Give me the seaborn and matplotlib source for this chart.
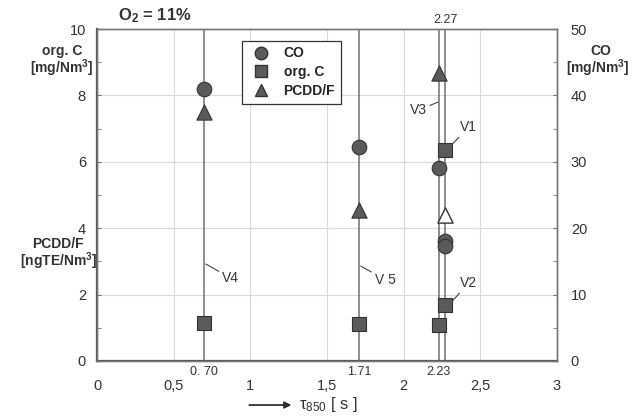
import pandas as pd
import numpy as np
import seaborn as sns
import matplotlib.pyplot as plt
from matplotlib.lines import Line2D

# residence times of the test runs (vertical lines)
tau_lines = [0.70, 1.71, 2.23, 2.27]
tau_labels_bottom = ["0. 70", "1.71", "2.23"]

co_tau = [0.70, 1.71, 2.23, 2.27, 2.27]
co_vals = [41.0, 32.2, 29.0, 18.1, 17.3]

orgc_tau = [0.70, 1.71, 2.23, 2.27, 2.27]
orgc_vals = [1.14, 1.10, 1.08, 6.36, 1.69]

pcdd_tau = [0.70, 1.71, 2.23]
pcdd_vals = [7.5, 4.55, 8.67]
pcdd_open_tau = [2.27]
pcdd_open_vals = [4.4]

xticks = [0, 0.5, 1, 1.5, 2, 2.5, 3]
xticklabels = ["0", "0,5", "1", "1,5", "2", "2,5", "3"]

sns.set_style("white")
plt.rcParams['font.family'] = ['Liberation Sans', 'DejaVu Sans']
plt.rcParams['mathtext.fontset'] = 'custom'
plt.rcParams['mathtext.rm'] = 'Liberation Sans'
plt.rcParams['mathtext.bf'] = 'Liberation Sans:bold'
plt.rcParams['mathtext.it'] = 'Liberation Sans:italic'

fig = plt.figure(figsize=(6.32, 4.18), dpi=100)
ax = fig.add_axes([0.1535, 0.1364, 0.7278, 0.7942])
ax2 = ax.twinx()

mark_col = "#5a5a5a"
edge_col = "#333333"
line_col = "#707070"

ax.set_xlim(0, 3)
ax.set_ylim(0, 10)
ax2.set_ylim(0, 50)

ax.set_xticks(xticks)
ax.set_xticklabels(xticklabels)
ax.set_yticks(range(0, 11, 2))
ax.set_yticks(range(0, 11, 1), minor=True)
ax2.set_yticks(range(0, 51, 10))
ax2.set_yticks(range(0, 51, 5), minor=True)
ax.set_xticks(np.arange(0, 3.01, 0.25), minor=True)

ax.grid(True, which="major", color="#dadada", lw=0.8)
ax.set_axisbelow(True)

for t in tau_lines:
    ax.axvline(t, color=line_col, lw=1.1, zorder=2)

sns.scatterplot(x=orgc_tau, y=orgc_vals, ax=ax, marker="s", s=110, color=mark_col,
                edgecolor=edge_col, linewidth=0.8, zorder=5, legend=False)
sns.scatterplot(x=pcdd_tau, y=pcdd_vals, ax=ax, marker="^", s=120, color=mark_col,
                edgecolor=edge_col, linewidth=0.8, zorder=5, legend=False)
sns.scatterplot(x=pcdd_open_tau, y=pcdd_open_vals, ax=ax, marker="^", s=120, color="white",
                edgecolor=edge_col, linewidth=1.0, zorder=5, legend=False)
sns.scatterplot(x=co_tau, y=co_vals, ax=ax2, marker="o", s=110, color=mark_col,
                edgecolor=edge_col, linewidth=0.8, zorder=5, legend=False)

for a in (ax, ax2):
    for s in a.spines.values():
        s.set_color("#777777")
        s.set_linewidth(1.0)
ax.spines["left"].set_linewidth(1.6)
ax.spines["bottom"].set_linewidth(1.6)
ax.spines["left"].set_color("#555555")
ax.spines["bottom"].set_color("#555555")

ax.tick_params(axis="both", which="both", direction="in", length=3, color="#777777",
               labelsize=10.5, labelcolor="#333333")
ax.tick_params(axis="x", pad=13)
ax.tick_params(axis="y", pad=8)
ax2.tick_params(axis="y", which="both", direction="in", length=3, color="#777777",
                labelsize=10.5, labelcolor="#333333", pad=10)

# labels of the individual runs
for t, lab in zip(tau_lines[:3], tau_labels_bottom):
    ax.text(t, -0.15, lab, ha="center", va="top", fontsize=9, color="#333333")
ax.text(2.27, 10.1, "2.27", ha="center", va="bottom", fontsize=9, color="#333333")

ann = dict(arrowstyle="-", color="#444444", lw=0.8, shrinkA=0, shrinkB=0)
ax.annotate("V4", xy=(0.71, 2.92), xytext=(0.815, 2.5), fontsize=10, color="#333333",
            va="center", arrowprops=ann)
ax.annotate("V 5", xy=(1.72, 2.86), xytext=(1.81, 2.45), fontsize=10, color="#333333",
            va="center", arrowprops=ann)
ax.annotate("V3", xy=(2.225, 7.8), xytext=(2.15, 7.55), fontsize=10, color="#333333",
            va="center", ha="right", arrowprops=ann)
ax.annotate("V1", xy=(2.29, 6.4), xytext=(2.37, 7.05), fontsize=10, color="#333333",
            va="center", arrowprops=ann)
ax.annotate("V2", xy=(2.30, 1.72), xytext=(2.37, 2.35), fontsize=10, color="#333333",
            va="center", arrowprops=ann)

handles = [
    Line2D([], [], ls="none", marker="o", ms=9, mfc=mark_col, mec=edge_col, label="CO"),
    Line2D([], [], ls="none", marker="s", ms=9, mfc=mark_col, mec=edge_col, label="org. C"),
    Line2D([], [], ls="none", marker="^", ms=9, mfc=mark_col, mec=edge_col, label="PCDD/F"),
]
leg = ax2.legend(handles=handles, loc="upper left", bbox_to_anchor=(0.3, 0.985),
                 frameon=True, fancybox=False, edgecolor="#333333", framealpha=1,
                 prop={"weight": "bold", "size": 10}, handletextpad=0.6,
                 borderpad=0.4, labelspacing=0.35)
leg.get_frame().set_linewidth(0.9)

lab_kw = dict(ha="center", va="baseline", fontsize=10, fontweight="bold", color="#333333")
fig.text(0.098, 0.868, "org. C", **lab_kw)
fig.text(0.098, 0.826, "[mg/Nm$^\\mathbf{3}$]", **lab_kw)
fig.text(0.092, 0.406, "PCDD/F", **lab_kw)
fig.text(0.092, 0.364, "[ngTE/Nm$^\\mathbf{3}$]", **lab_kw)
fig.text(0.950, 0.868, "CO", **lab_kw)
fig.text(0.945, 0.826, "[mg/Nm$^\\mathbf{3}$]", **lab_kw)

fig.text(0.245, 0.962, "O$_\\mathbf{2}$ = 11%", ha="center", va="center", fontsize=12,
         fontweight="bold", color="#333333")

fig.add_artist(plt.annotate("", xy=(0.465, 0.031), xytext=(0.39, 0.031),
                            xycoords="figure fraction",
                            arrowprops=dict(arrowstyle="-|>", color="#333333", lw=1.0,
                                            mutation_scale=10)))
fig.text(0.473, 0.033, "τ$_{850}$ [ s ]", ha="left", va="center", fontsize=12,
         color="#333333")

fig.savefig("out.png", dpi=100)
